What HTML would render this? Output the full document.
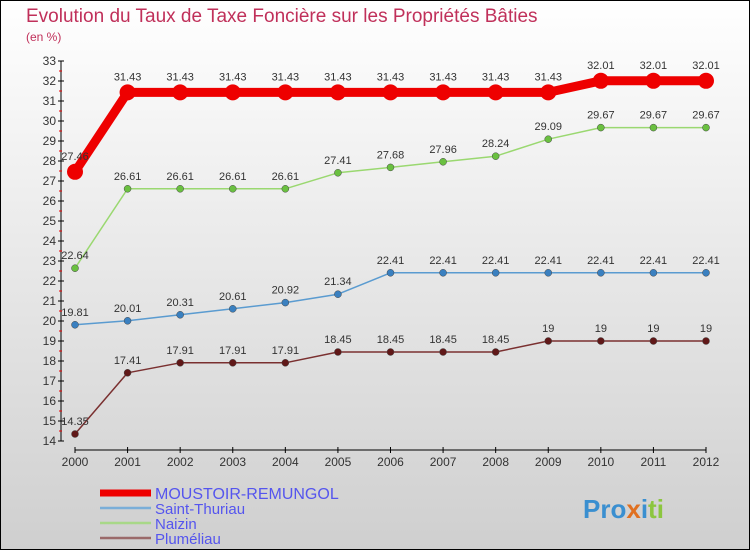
<!DOCTYPE html>
<html><head><meta charset="utf-8"><style>
body{margin:0}
#c{width:750px;height:550px;position:relative;font-family:"Liberation Sans",sans-serif}
</style></head><body>
<div id="c">
<svg width="750" height="550" xmlns="http://www.w3.org/2000/svg">
<defs><linearGradient id="bg" x1="0" y1="0" x2="0" y2="1"><stop offset="0" stop-color="#ffffff"/><stop offset="1" stop-color="#cfcfcf"/></linearGradient></defs>
<rect x="0.5" y="0.5" width="749" height="549" fill="url(#bg)" stroke="#000"/>
<text x="26" y="22" font-size="19" fill="#c0305a">Evolution du Taux de Taxe Foncière sur les Propriétés Bâties</text>
<text x="26" y="41" font-size="12" fill="#c0305a">(en %)</text>
<g id="axes"></g>
<g id="series"></g>
<g id="legend"></g>
<text x="583" y="518" font-size="26" font-weight="bold"><tspan fill="#3a8fd0">Pro</tspan><tspan fill="#e07020">x</tspan><tspan fill="#3a8fd0">i</tspan><tspan fill="#8cc63f">ti</tspan></text>
</svg>
</div>
<script>
const years=[2000,2001,2002,2003,2004,2005,2006,2007,2008,2009,2010,2011,2012];
const yTicks=[14,15,16,17,18,19,20,21,22,23,24,25,26,27,28,29,30,31,32,33];
const moustoir=[27.46,31.43,31.43,31.43,31.43,31.43,31.43,31.43,31.43,31.43,32.01,32.01,32.01];
const saintThuriau=[19.81,20.01,20.31,20.61,20.92,21.34,22.41,22.41,22.41,22.41,22.41,22.41,22.41];
const naizin=[22.64,26.61,26.61,26.61,26.61,27.41,27.68,27.96,28.24,29.09,29.67,29.67,29.67];
const plumeliau=[14.35,17.41,17.91,17.91,17.91,18.45,18.45,18.45,18.45,19,19,19,19];
const seriesNames=["MOUSTOIR-REMUNGOL","Saint-Thuriau","Naizin","Pluméliau"];
const NS="http://www.w3.org/2000/svg";
const xS=i=>75+i*(706-75)/12;
const yS=v=>441-(v-14)*20;
function mk(tag,attrs,parent){const e=document.createElementNS(NS,tag);for(const k in attrs)e.setAttribute(k,attrs[k]);parent.appendChild(e);return e;}
const ax=document.getElementById('axes');
let e=mk('line',{x1:61,y1:yS(33),x2:61,y2:yS(14),stroke:'#000'},ax);


e=mk('line',{x1:75,y1:450,x2:706,y2:450,stroke:'#000'},ax);


yTicks.forEach(v=>{
  mk('line',{x1:58,y1:yS(v),x2:64,y2:yS(v),stroke:'#000'},ax);
  if(v<33)mk('line',{x1:59,y1:yS(v+0.5),x2:62,y2:yS(v+0.5),stroke:'#e00'},ax);
  const t=mk('text',{x:56,y:yS(v)+4,'font-size':12,'text-anchor':'end',fill:'#333'},ax);
  t.textContent=v;
  
  
});
years.forEach((y,i)=>{
  mk('line',{x1:xS(i),y1:447,x2:xS(i),y2:453,stroke:'#000'},ax);
  const t=mk('text',{x:xS(i),y:466,'font-size':12,'text-anchor':'middle',fill:'#333'},ax);
  t.textContent=y;
  
  
});
const sg=document.getElementById('series');
const defs=[[moustoir,'#ee0000','#ee0000',9,8],[saintThuriau,'#5a9bd0','#3a80c0',1.5,3.5],[naizin,'#9ad870','#6ac040',1.5,3.5],[plumeliau,'#7a3030','#601818',1.5,3.5]];
defs.forEach((d,si)=>{
  const [vals,lc,pc,w,r]=d;
  const p=mk('polyline',{points:vals.map((v,i)=>xS(i)+','+yS(v)).join(' '),fill:'none',stroke:lc,'stroke-width':w,'stroke-linejoin':'round'},sg);
  
  
  vals.forEach((v,i)=>{
    const c=mk('circle',{cx:xS(i),cy:yS(v),r:r,fill:pc,stroke:si?'#444':'none','stroke-width':0.5},sg);
    
    
    const t=mk('text',{x:xS(i),y:yS(v)-(si==0?12:9),'font-size':11,'text-anchor':'middle',fill:'#333'},sg);
    t.textContent=String(v);
    
    
  });
});
const lg=document.getElementById('legend');
const lcols=['#ee0000','#7aaed8','#a8d888','#9a6a6a'];const lw=[7,2.5,2.5,2.5];
seriesNames.forEach((n,i)=>{
  const y=493+i*15;
  mk('line',{x1:100,y1:y,x2:151,y2:y,stroke:lcols[i],'stroke-width':lw[i]},lg);
  const t=mk('text',{x:155,y:y+6,'font-size':i==0?16:15,fill:'#5555ee'},lg);
  t.textContent=n;
  
  
});
</script>
</body></html>
